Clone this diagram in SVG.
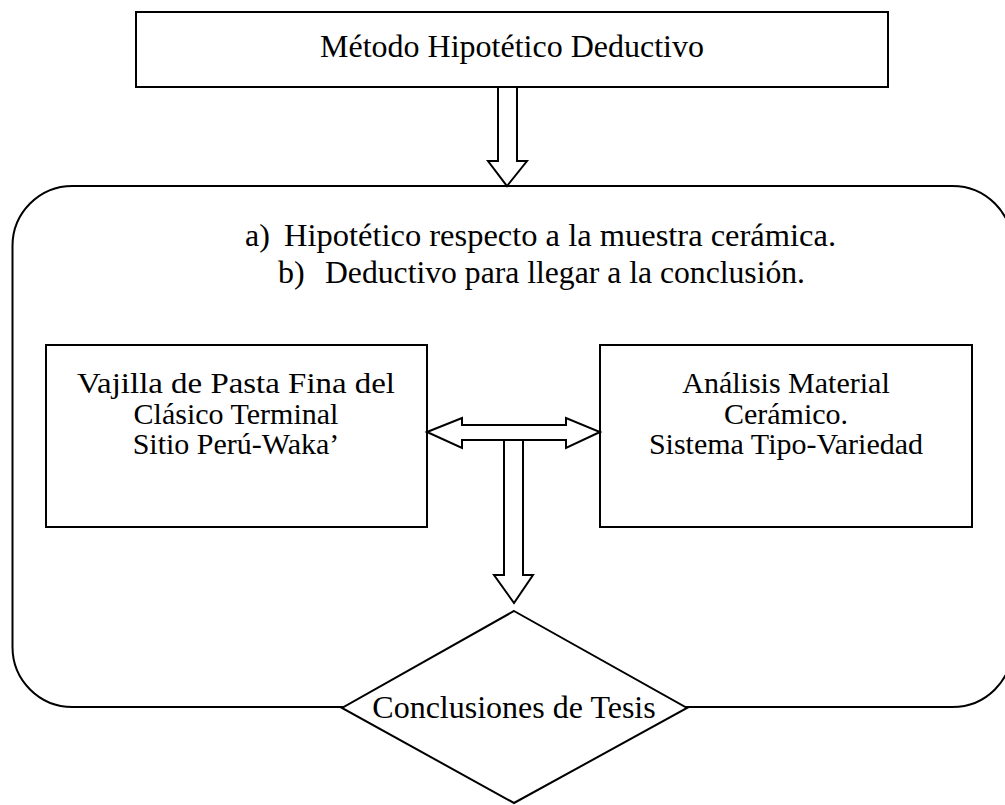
<svg xmlns="http://www.w3.org/2000/svg" width="1005" height="805" viewBox="0 0 1005 805">
<style>
.s{fill:#fff;stroke:#000;stroke-width:2}
.t{font-family:"Liberation Serif","Times New Roman",serif;font-size:30px;fill:#000}
.b{font-size:32px}
.c{text-anchor:middle}
</style>
<rect width="1005" height="805" fill="#fff"/>
<g id="container">
<rect class="s" x="12.5" y="186" width="1000" height="521" rx="60" ry="60"/>
<text class="t b" x="245" y="246">a)</text>
<text class="t b" x="284" y="246" textLength="552" lengthAdjust="spacingAndGlyphs">Hipotético respecto a la muestra cerámica.</text>
<text class="t b" x="278" y="283">b)</text>
<text class="t b" x="325" y="283" textLength="480" lengthAdjust="spacingAndGlyphs">Deductivo para llegar a la conclusión.</text>
</g>
<g id="metodo">
<rect class="s" x="136" y="12" width="752" height="75"/>
<text class="t b c" x="512" y="57">Método Hipotético Deductivo</text>
</g>
<g id="vajilla">
<rect class="s" x="46" y="345" width="381" height="182"/>
<text class="t c" x="236" y="393" textLength="318" lengthAdjust="spacingAndGlyphs">Vajilla de Pasta Fina del</text>
<text class="t c" x="236" y="424">Clásico Terminal</text>
<text class="t c" x="236" y="454">Sitio Perú-Waka’</text>
</g>
<g id="analisis">
<rect class="s" x="600" y="345" width="372" height="182"/>
<text class="t c" x="786" y="393">Análisis Material</text>
<text class="t c" x="786" y="424">Cerámico.</text>
<text class="t c" x="786" y="454">Sistema Tipo-Variedad</text>
</g>
<g id="conclusiones">
<polygon class="s" points="514,611 687,708 514,803 342,708"/>
<text class="t b c" x="514" y="718">Conclusiones de Tesis</text>
</g>
<g id="connectors">
<polygon class="s" points="498,87 517,87 517,161 527,161 507,186 488,161 498,161"/>
<polygon class="s" points="427,432 462,418 462,425 566,425 566,418 600,432 566,448 566,440 462,440 462,448"/>
<polygon class="s" points="504,440 523,440 523,575 533,575 514,603 494,575 504,575"/>
</g>
</svg>
